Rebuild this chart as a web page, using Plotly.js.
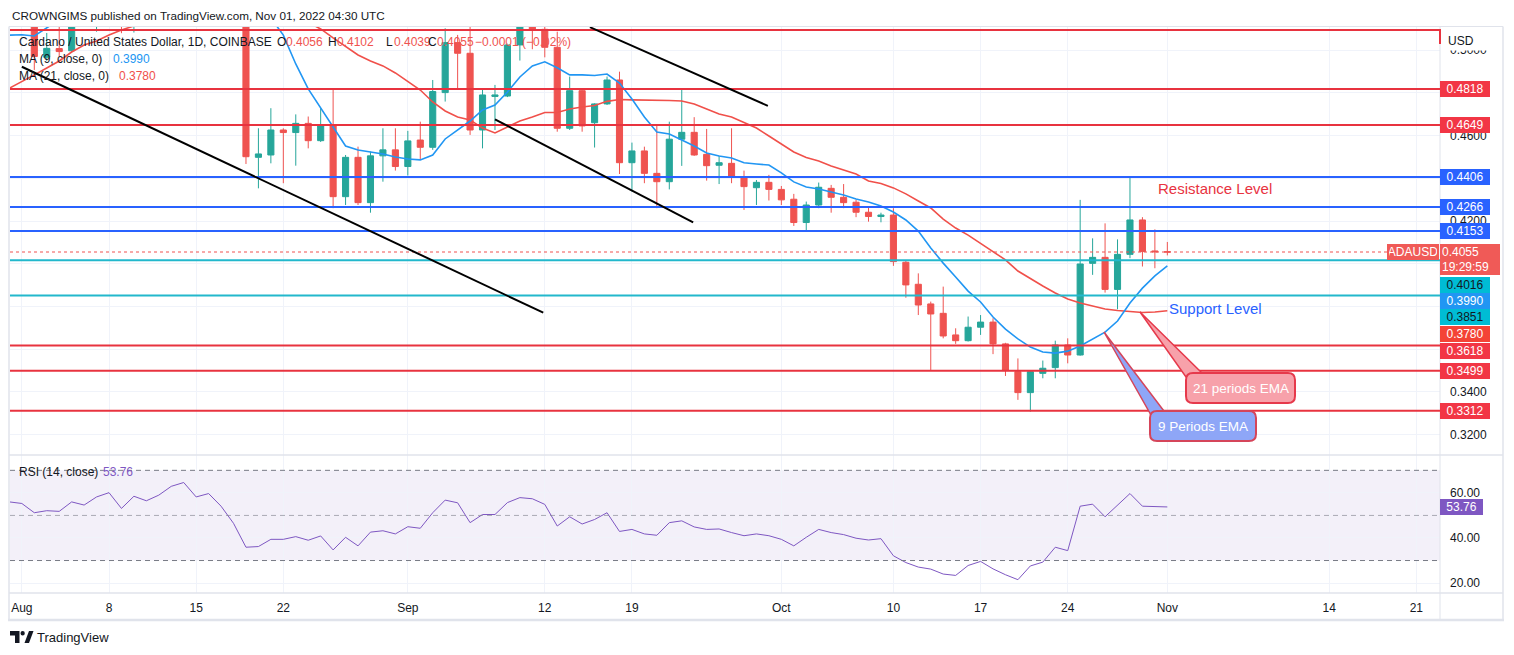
<!DOCTYPE html>
<html><head><meta charset="utf-8">
<script src="https://cdn.plot.ly/plotly-3.0.1.min.js"></script>
<style>html,body{margin:0;padding:0;background:#fff;}#chart{width:1514px;height:655px;}</style>
</head><body><div id="chart"></div>
<script>
// ---------------- DATA ----------------
const startDate = '2022-07-31';
const opens = [0.5120,0.5180,0.5200,0.4966,0.5007,0.4997,0.5180,0.5150,0.5280,0.5480,
0.5220,0.5400,0.5450,0.5500,0.5650,0.5700,0.5450,0.5480,0.5300,0.5200,
0.4498,0.4509,0.4626,0.4614,0.4657,0.4576,0.4645,0.4314,0.4498,0.4286,
0.4505,0.4533,0.4455,0.4579,0.4545,0.4801,0.5035,0.4985,0.4626,0.4783,
0.4785,0.5024,0.5150,0.5097,0.5013,0.4634,0.4810,0.4660,0.4748,0.4860,
0.4473,0.4528,0.4423,0.4384,0.4583,0.4615,0.4512,0.4461,0.4470,0.4408,
0.4356,0.4381,0.4348,0.4302,0.4193,0.4275,0.4353,0.4311,0.4288,0.4241,
0.4221,0.4228,0.4007,0.3904,0.3812,0.3768,0.3667,0.3640,0.3703,0.3727,
0.3625,0.3495,0.3397,0.3487,0.3514,0.3620,0.3573,0.4002,0.4030,0.3880,
0.4044,0.4205,0.4060,0.4056];
const highs = [0.5200,0.5300,0.5250,0.5080,0.5110,0.5250,0.5250,0.5300,0.5600,0.5520,
0.5450,0.5600,0.5550,0.5750,0.5800,0.5900,0.5550,0.5600,0.5400,0.5250,
0.4634,0.4728,0.4634,0.4699,0.4689,0.4728,0.4821,0.4509,0.4548,0.4525,
0.4634,0.4634,0.4622,0.4665,0.4860,0.5102,0.5071,0.5110,0.4821,0.4837,
0.5030,0.5180,0.5200,0.5150,0.5086,0.4876,0.4821,0.4751,0.4876,0.4899,
0.4567,0.4548,0.4645,0.4665,0.4821,0.4686,0.4631,0.4505,0.4634,0.4436,
0.4392,0.4416,0.4364,0.4327,0.4291,0.4380,0.4369,0.4373,0.4299,0.4264,
0.4239,0.4260,0.4015,0.3955,0.3823,0.3893,0.3698,0.3753,0.3760,0.3745,
0.3630,0.3557,0.3500,0.3547,0.3640,0.3651,0.4299,0.4119,0.4189,0.4114,
0.4408,0.4218,0.4161,0.4102];
const lows = [0.5115,0.5120,0.4907,0.4950,0.4970,0.4990,0.5120,0.5086,0.5200,0.5079,
0.5082,0.5350,0.5300,0.5450,0.5500,0.5350,0.5300,0.5200,0.5150,0.4467,
0.4353,0.4470,0.4377,0.4459,0.4540,0.4570,0.4260,0.4275,0.4275,0.4239,
0.4384,0.4436,0.4413,0.4489,0.4533,0.4759,0.4821,0.4603,0.4540,0.4626,
0.4780,0.4951,0.5004,0.4966,0.4618,0.4626,0.4618,0.4544,0.4743,0.4420,
0.4338,0.4377,0.4260,0.4348,0.4458,0.4505,0.4389,0.4373,0.4377,0.4252,
0.4275,0.4296,0.4275,0.4177,0.4158,0.4260,0.4239,0.4260,0.4218,0.4197,
0.4194,0.3990,0.3841,0.3760,0.3503,0.3651,0.3625,0.3636,0.3667,0.3577,
0.3475,0.3363,0.3308,0.3464,0.3464,0.3534,0.3570,0.3948,0.3865,0.3787,
0.4026,0.3987,0.3979,0.4039];
const closes = [0.5180,0.5200,0.4970,0.5008,0.4993,0.5180,0.5150,0.5280,0.5480,0.5220,
0.5400,0.5450,0.5500,0.5650,0.5700,0.5450,0.5480,0.5300,0.5200,0.4501,
0.4514,0.4626,0.4614,0.4657,0.4576,0.4645,0.4314,0.4498,0.4286,0.4505,
0.4533,0.4455,0.4575,0.4545,0.4806,0.5035,0.4985,0.4626,0.4790,0.4790,
0.5024,0.5150,0.5097,0.5013,0.4634,0.4810,0.4645,0.4748,0.4860,0.4473,
0.4528,0.4423,0.4384,0.4583,0.4615,0.4509,0.4459,0.4473,0.4408,0.4361,
0.4381,0.4348,0.4299,0.4193,0.4275,0.4358,0.4311,0.4286,0.4241,0.4221,
0.4228,0.4010,0.3901,0.3807,0.3765,0.3662,0.3640,0.3703,0.3727,0.3625,
0.3500,0.3397,0.3495,0.3511,0.3620,0.3573,0.3999,0.4030,0.3880,0.4044,
0.4205,0.4057,0.4056,0.4055];
const ma9 = [0.5070,0.5072,0.5066,0.5104,0.5140,0.5180,0.5210,0.5250,0.5300,0.5320,
0.5340,0.5380,0.5410,0.5450,0.5490,0.5500,0.5490,0.5460,0.5420,0.5330,
0.5240,0.5150,0.5070,0.4935,0.4818,0.4729,0.4635,0.4551,0.4532,0.4523,
0.4514,0.4500,0.4490,0.4486,0.4509,0.4584,0.4626,0.4668,0.4720,0.4743,
0.4804,0.4874,0.4926,0.4945,0.4917,0.4884,0.4884,0.4881,0.4888,0.4846,
0.4771,0.4687,0.4617,0.4607,0.4579,0.4551,0.4518,0.4504,0.4495,0.4473,
0.4467,0.4462,0.4425,0.4383,0.4359,0.4350,0.4336,0.4322,0.4303,0.4289,
0.4270,0.4242,0.4205,0.4153,0.4074,0.4003,0.3938,0.3872,0.3821,0.3751,
0.3694,0.3648,0.3610,0.3587,0.3582,0.3591,0.3615,0.3648,0.3680,0.3732,
0.3816,0.3886,0.3943,0.3990];
const ma21 = [0.4822,0.4855,0.4884,0.4916,0.4949,0.4991,0.5024,0.5043,0.5071,0.5094,
0.5113,0.5140,0.5170,0.5200,0.5230,0.5250,0.5270,0.5280,0.5285,0.5270,
0.5250,0.5220,0.5190,0.5160,0.5130,0.5099,0.5057,0.5015,0.4977,0.4949,
0.4926,0.4893,0.4855,0.4813,0.4757,0.4715,0.4687,0.4673,0.4635,0.4612,
0.4640,0.4668,0.4687,0.4708,0.4708,0.4724,0.4734,0.4741,0.4760,0.4769,
0.4767,0.4767,0.4764,0.4764,0.4762,0.4748,0.4724,0.4701,0.4687,0.4661,
0.4635,0.4598,0.4560,0.4523,0.4497,0.4481,0.4458,0.4439,0.4420,0.4387,
0.4376,0.4355,0.4327,0.4294,0.4261,0.4209,0.4167,0.4134,0.4095,0.4055,
0.4018,0.3966,0.3929,0.3896,0.3863,0.3835,0.3816,0.3802,0.3788,0.3781,
0.3776,0.3772,0.3774,0.3780];
const rsi = [56.0,55.3,51.2,52.1,51.8,56.0,54.6,58.2,60.1,53.1,
58.5,56.5,59.0,62.9,64.6,58.2,59.7,54.1,46.5,35.9,
36.2,39.4,39.4,40.6,39.0,40.9,34.7,40.3,36.5,42.6,
43.2,41.8,45.0,44.3,51.2,56.8,55.6,46.8,50.4,50.4,
55.7,57.9,57.4,54.9,45.3,49.4,46.2,48.2,51.2,42.9,
43.8,41.8,41.2,46.8,47.6,44.9,43.8,44.0,42.4,41.0,
41.8,41.0,39.4,36.5,40.3,43.8,42.4,41.5,39.9,39.1,
39.7,32.1,29.1,27.1,26.2,24.0,23.4,27.8,29.6,26.3,
23.7,21.5,27.6,29.3,35.9,34.4,54.1,55.0,49.4,54.6,
59.7,54.1,53.8,53.76];

const tickDates = ['2022-08-01','2022-08-08','2022-08-15','2022-08-22','2022-09-01','2022-09-12','2022-09-19','2022-10-01','2022-10-10','2022-10-17','2022-10-24','2022-11-01','2022-11-14','2022-11-21'];
const tickText = ['Aug','8','15','22','Sep','12','19','Oct','10','17','24','Nov','14','21'];
const priceTicks = [0.32,0.34,0.36,0.38,0.40,0.42,0.44,0.46,0.48,0.50];
// tick labels that the price tags hide in the reference
const hiddenPriceTicks = [0.36,0.38,0.40,0.44,0.48];
const rsiTicks = [20,40,60];

const redLevels = [0.5094,0.4818,0.4649,0.3618,0.3499,0.3312];
const blueLevels = [0.4406,0.4266,0.4153];
const cyanLevels = [0.4016,0.3851];
const lastPrice = 0.4055;
const lastMA9 = 0.3990, lastMA21 = 0.3780, lastRSI = 53.76;
const tagValues = [0.4818,0.4649,0.4406,0.4266,0.4153,0.4016,0.3990,0.3851,0.3780,0.3618,0.3499,0.3312];

// TradingView drawings (trend lines), date/price endpoints
const trendLines = [
  ['2022-08-01 00:00',0.4922,'2022-09-11 21:00',0.3771],
  ['2022-09-08 00:00',0.4676,'2022-09-23 22:00',0.4194],
  ['2022-09-15 15:00',0.5107,'2022-09-29 22:00',0.4739]
];

// ---------------- STYLE / LAYOUT ----------------
function dayList(start,n){const o=[];const d0=new Date(start+'T00:00:00Z');for(let i=0;i<n;i++){o.push(new Date(d0.getTime()+i*86400000).toISOString().slice(0,10));}return o;}
const dates = dayList(startDate, opens.length);

const C_RED='#e8333f', C_BLUE='#2962ff', C_CYAN='#22b8cc', C_UP='#26a69a', C_DN='#ef5350';
const C_MA9='#2196f3', C_MA21='#f0504a', C_TXT='#131722', C_RSI='#7e57c2';
const FONT='Liberation Sans, Arial, sans-serif';

// pixel -> paper helpers for chrome/drawings
const PL=10, PR=1440, PT=27, PB=593;
const px=p=>(p-PL)/(PR-PL);
const py=p=>(PB-p)/(PB-PT);
const mainBottom = py(455);

const traces = [
  {type:'candlestick', x:dates, open:opens, high:highs, low:lows, close:closes, xaxis:'x', yaxis:'y',
   increasing:{line:{color:C_UP,width:1},fillcolor:C_UP}, decreasing:{line:{color:C_DN,width:1},fillcolor:C_DN},
   whiskerwidth:0, hoverinfo:'skip'},
  {type:'scatter', mode:'lines', x:dates, y:ma21, xaxis:'x', yaxis:'y', line:{color:C_MA21,width:1.6}, hoverinfo:'skip'},
  {type:'scatter', mode:'lines', x:dates, y:ma9, xaxis:'x', yaxis:'y', line:{color:C_MA9,width:1.6}, hoverinfo:'skip'},
  {type:'scatter', mode:'lines', x:dates, y:rsi, xaxis:'x', yaxis:'y2', line:{color:C_RSI,width:1}, hoverinfo:'skip'}
];

const shapes = [];
shapes.push({type:'rect', xref:'paper', x0:0, x1:1, yref:'y2', y0:30, y1:70, fillcolor:'rgba(126,87,194,0.09)', line:{width:0}, layer:'below'});
[[70,'#787b86'],[50,'rgba(120,123,134,0.6)'],[30,'#787b86']].forEach(([v,c])=>shapes.push({type:'line', xref:'paper', x0:0, x1:1, yref:'y2', y0:v, y1:v, line:{color:c,width:1,dash:'5px,4px'}}));
const frame = '#e0e3eb';
shapes.push({type:'line', xref:'paper', yref:'paper', x0:px(9), x1:px(1503), y0:py(26.5), y1:py(26.5), line:{color:frame,width:1}});
shapes.push({type:'line', xref:'paper', yref:'paper', x0:px(9), x1:px(1503), y0:mainBottom, y1:mainBottom, line:{color:frame,width:1.5}});
shapes.push({type:'line', xref:'paper', yref:'paper', x0:px(9), x1:px(1503), y0:py(593), y1:py(593), line:{color:frame,width:1.5}});
shapes.push({type:'line', xref:'paper', yref:'paper', x0:px(8), x1:px(1504), y0:py(620), y1:py(620), line:{color:frame,width:2.5}});
shapes.push({type:'line', xref:'paper', yref:'paper', x0:px(9), x1:px(9), y0:py(26.5), y1:py(620), line:{color:frame,width:1.5}});
shapes.push({type:'line', xref:'paper', yref:'paper', x0:px(1440), x1:px(1440), y0:py(26.5), y1:py(620), line:{color:frame,width:1}});
shapes.push({type:'line', xref:'paper', yref:'paper', x0:px(1503), x1:px(1503), y0:py(26.5), y1:py(620), line:{color:frame,width:1.5}});
shapes.push({type:'line', xref:'paper', x0:0, x1:px(1387), yref:'y', y0:lastPrice, y1:lastPrice, line:{color:C_DN,width:1,dash:'dot'}});
redLevels.forEach(v=>shapes.push({type:'line', xref:'paper', x0:0, x1:1, yref:'y', y0:v, y1:v, line:{color:C_RED,width:2}}));
blueLevels.forEach(v=>shapes.push({type:'line', xref:'paper', x0:0, x1:1, yref:'y', y0:v, y1:v, line:{color:C_BLUE,width:2}}));
cyanLevels.forEach(v=>shapes.push({type:'line', xref:'paper', x0:0, x1:1, yref:'y', y0:v, y1:v, line:{color:C_CYAN,width:2}}));
shapes.push({type:'line', xref:'paper', yref:'paper', x0:1, x1:1, y0:py(29), y1:py(44), line:{color:C_RED,width:2}});
trendLines.forEach(t=>shapes.push({type:'line', xref:'x', yref:'y', x0:t[0], y0:t[1], x1:t[2], y1:t[3], line:{color:'#000000',width:2}}));

function P(x,y){return px(x).toFixed(5)+','+py(y).toFixed(5);}
function rrect(x0,y0,x1,y1,r){
  return 'M'+P(x0+r,y0)+' L'+P(x1-r,y0)+' Q'+P(x1,y0)+' '+P(x1,y0+r)+' L'+P(x1,y1-r)+' Q'+P(x1,y1)+' '+P(x1-r,y1)+
         ' L'+P(x0+r,y1)+' Q'+P(x0,y1)+' '+P(x0,y1-r)+' L'+P(x0,y0+r)+' Q'+P(x0,y0)+' '+P(x0+r,y0)+' Z';
}
function wedge(a,b,c){return 'M'+P(a[0],a[1])+' L'+P(b[0],b[1])+' L'+P(c[0],c[1])+' Z';}
shapes.push({type:'path', xref:'paper', yref:'paper', path:wedge([1140,312],[1186,377],[1206,377]), fillcolor:'#f7a1aa', line:{color:'#e6394b',width:1.5}});
shapes.push({type:'path', xref:'paper', yref:'paper', path:rrect(1186,373,1295,403,7), fillcolor:'#f7a1aa', line:{color:'#e6394b',width:2}});
shapes.push({type:'path', xref:'paper', yref:'paper', path:wedge([1104,332],[1151,415],[1167,415]), fillcolor:'#8ea6f7', line:{color:'#d5455a',width:1.5}});
shapes.push({type:'path', xref:'paper', yref:'paper', path:rrect(1150,411,1256,441,7), fillcolor:'#8ea6f7', line:{color:'#d5455a',width:2}});
shapes.push({type:'path', xref:'paper', yref:'paper', path:'M'+P(10,631)+' L'+P(19.5,631)+' L'+P(19.5,643)+' L'+P(15,643)+' L'+P(15,635.5)+' L'+P(10,635.5)+' Z', fillcolor:C_TXT, line:{width:0}});
shapes.push({type:'circle', xref:'paper', yref:'paper', x0:px(20.5), x1:px(24.8), y0:py(631), y1:py(635.5), fillcolor:C_TXT, line:{width:0}});
shapes.push({type:'path', xref:'paper', yref:'paper', path:'M'+P(24.5,643)+' L'+P(29,631)+' L'+P(33.5,631)+' L'+P(29,643)+' Z', fillcolor:C_TXT, line:{width:0}});

const ann = [];
function txt(x,y,t,color,size,opts){ann.push(Object.assign({xref:'paper',yref:'paper',x:px(x),y:py(y),xanchor:'left',yanchor:'middle',text:t,showarrow:false,font:{family:FONT,size:size||12,color:color||C_TXT}},opts||{}));}
txt(9.5,15,'CROWNGIMS published on TradingView.com, Nov 01, 2022 04:30 UTC',C_TXT,11.7);
txt(17,42.3,'Cardano / United States Dollar, 1D, COINBASE',C_TXT,12);
txt(275,42.3,'O',C_TXT,12); txt(284,42.3,'0.4056',C_DN,12);
txt(326,42.3,'H',C_TXT,12); txt(335,42.3,'0.4102',C_DN,12);
txt(384,42.3,'L',C_TXT,12); txt(392,42.3,'0.4039',C_DN,12);
txt(426,42.3,'C',C_TXT,12); txt(435,42.3,'0.4055',C_DN,12);
txt(473,42.3,'−0.0001 (−0.02%)',C_DN,12);
txt(17,59,'MA (9, close, 0)',C_TXT,12); txt(111,59,lastMA9.toFixed(4),C_MA9,12);
txt(17,75.7,'MA (21, close, 0)',C_TXT,12); txt(117,75.7,lastMA21.toFixed(4),C_MA21,12);
txt(17,471.7,'RSI (14, close)',C_TXT,12); txt(101,471.7,lastRSI.toFixed(2),C_RSI,12);
txt(1156,188,'Resistance Level',C_RED,15);
txt(1167,308.5,'Support Level',C_BLUE,15);
txt(1240.5,388,'21 periods EMA','#ffffff',13.5,{xanchor:'center'});
txt(1203,426,'9 Periods EMA','#ffffff',13.5,{xanchor:'center'});
txt(35,637,'TradingView',C_TXT,13);
txt(1450,40,'USD',C_TXT,12,{bgcolor:'#ffffff',width:50,height:19,align:'left',borderpad:0,x:px(1447)});

const tagBg = ['#f23645','#f23645','#2962ff','#2962ff','#2962ff','#00bcd4','#2196f3','#00bcd4','#f44336','#f23645','#f23645','#f23645'];
const tagFg = ['#fff','#fff','#fff','#fff','#fff','#131722','#fff','#131722','#fff','#fff','#fff','#fff'];
const tagShift = [-0.4,0,0,0,0,-24.3,-35.4,-21.4,-23.3,-5.7,0,0];
tagValues.forEach((v,i)=>ann.push({xref:'paper',x:1,xanchor:'left',yref:'y',y:v,yanchor:'middle',yshift:tagShift[i],text:v.toFixed(4),showarrow:false,
  bgcolor:tagBg[i],font:{family:FONT,size:12,color:tagFg[i]},width:46,height:12,borderpad:2,borderwidth:0,align:'center'}));
ann.push({xref:'paper',x:1,xanchor:'left',yref:'y',y:lastPrice,yanchor:'top',yshift:8,text:lastPrice.toFixed(4)+'<br>19:29:59',showarrow:false,
  bgcolor:'#f05a57',font:{family:FONT,size:12,color:'#ffffff'},width:56,height:27,borderpad:2,borderwidth:0,align:'left'});
ann.push({xref:'paper',x:px(1387),xanchor:'left',yref:'y',y:lastPrice,yanchor:'middle',text:'ADAUSD',showarrow:false,
  bgcolor:'#f05a57',font:{family:FONT,size:12,color:'#ffffff'},width:48,height:12,borderpad:2,borderwidth:0,align:'center'});
ann.push({xref:'paper',x:1,xanchor:'left',yref:'y2',y:lastRSI,yanchor:'middle',text:lastRSI.toFixed(2),showarrow:false,
  bgcolor:C_RSI,font:{family:FONT,size:12,color:'#ffffff'},width:39,height:12,borderpad:2,borderwidth:0,align:'center'});

const layout = {
  width:1514, height:655, margin:{l:PL, r:1514-PR, t:PT, b:655-PB},
  paper_bgcolor:'#ffffff', plot_bgcolor:'rgba(0,0,0,0)', showlegend:false,
  font:{family:FONT, color:C_TXT, size:12},
  xaxis:{type:'date', range:['2022-07-31 01:09','2022-11-22 21:36'], anchor:'y2', tickmode:'array', tickvals:tickDates, ticktext:tickText,
    showgrid:true, gridcolor:'#f0f3fa', zeroline:false, showline:false, ticks:'', ticklabelstandoff:6,
    tickfont:{family:FONT,size:12,color:C_TXT}, rangeslider:{visible:false}, fixedrange:true},
  yaxis:{domain:[mainBottom,1], range:[0.3105,0.5108], side:'right', anchor:'x', tickmode:'array', tickvals:priceTicks,
    ticktext:priceTicks.map(v=>hiddenPriceTicks.includes(v)?'':v.toFixed(4)), showgrid:true, gridcolor:'#f0f3fa', zeroline:false, showline:false, ticks:'',
    ticklabelstandoff:9, tickfont:{family:FONT,size:12,color:C_TXT}, fixedrange:true},
  yaxis2:{domain:[0,mainBottom], range:[15.6,76.8], side:'right', anchor:'x', tickmode:'array', tickvals:rsiTicks,
    ticktext:rsiTicks.map(v=>v.toFixed(2)), showgrid:true, gridcolor:'#f0f3fa', zeroline:false, showline:false, ticks:'',
    ticklabelstandoff:9, tickfont:{family:FONT,size:12,color:C_TXT}, fixedrange:true},
  shapes:shapes, annotations:ann
};
Plotly.newPlot('chart', traces, layout, {staticPlot:true, displayModeBar:false});
</script></body></html>
